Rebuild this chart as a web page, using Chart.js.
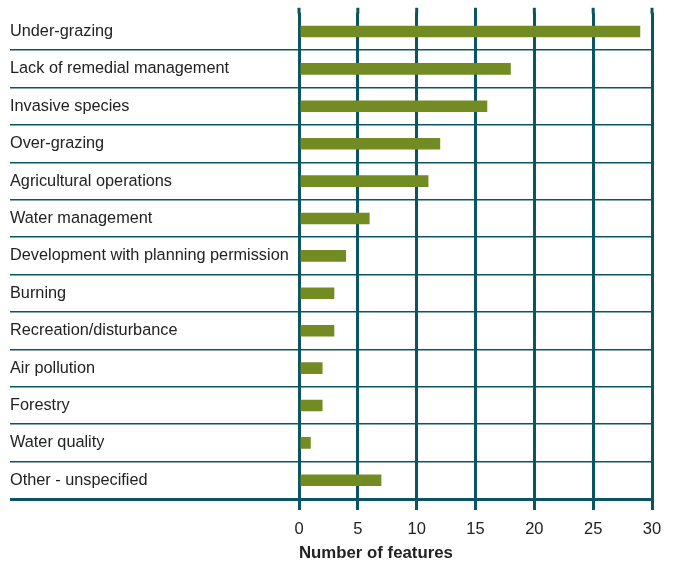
<!DOCTYPE html>
<html>
<head>
<meta charset="utf-8">
<script src="https://cdn.jsdelivr.net/npm/chart.js@4"></script>
<style>
  html, body { margin: 0; padding: 0; background: #fff; }
  #wrap { width: 674px; height: 568px; }
</style>
</head>
<body>
<div id="wrap"><canvas id="pressure_chart"></canvas></div>
<script>
// categories and counts
var categories = [
  "Under-grazing",
  "Lack of remedial management",
  "Invasive species",
  "Over-grazing",
  "Agricultural operations",
  "Water management",
  "Development with planning permission",
  "Burning",
  "Recreation/disturbance",
  "Air pollution",
  "Forestry",
  "Water quality",
  "Other - unspecified"
];
var feature_counts = [29, 18, 16, 12, 11, 6, 4, 3, 3, 2, 2, 1, 7];
var x_ticks = [0, 5, 10, 15, 20, 25, 30];
var x_title = "Number of features";

var line_color = "#0b5563";
var bar_color = "#728b22";
var text_color = "#222222";
var font_family = "'Liberation Sans', Arial, sans-serif";

// the vertical grid lines poke a few px above the top row
var gridTopExtend = {
  id: 'gridTopExtend',
  beforeDatasetsDraw: function(chart) {
    var ctx = chart.ctx;
    var x = chart.scales.x;
    var top = chart.chartArea.top;
    ctx.save();
    ctx.strokeStyle = line_color;
    ctx.lineWidth = 3;
    for (var i = 0; i < x_ticks.length; i++) {
      var px = x.getPixelForValue(x_ticks[i]);
      ctx.beginPath();
      ctx.moveTo(px, top - 5);
      ctx.lineTo(px, top + 1);
      ctx.stroke();
    }
    ctx.restore();
  }
};

function initPage() {
  var ctx = document.getElementById("pressure_chart").getContext("2d");
  new Chart(ctx, {
    type: 'bar',
    data: {
      labels: categories,
      datasets: [{
        data: feature_counts,
        backgroundColor: bar_color,
        borderWidth: 0,
        barPercentage: 0.31,
        categoryPercentage: 1
      }]
    },
    options: {
      indexAxis: 'y',
      responsive: true,
      maintainAspectRatio: false,
      animation: false,
      layout: { padding: { left: 10, right: 22, top: 10.4, bottom: 0 } },
      plugins: { legend: { display: false }, tooltip: { enabled: false } },
      scales: {
        x: {
          min: 0,
          max: 30,
          afterBuildTicks: function(scale) {
            scale.ticks = x_ticks.map(function(v) { return { value: v }; });
          },
          afterFit: function(scale) { scale.height = 69; },
          border: { display: false },
          grid: {
            color: line_color,
            lineWidth: 3,
            tickLength: 11
          },
          ticks: {
            color: text_color,
            padding: 10,
            font: { family: font_family, size: 16.5 }
          },
          title: {
            display: true,
            text: x_title,
            align: 'start',
            color: text_color,
            padding: { top: 0, bottom: 5 },
            font: { family: font_family, size: 16.8, weight: 'bold' }
          }
        },
        y: {
          afterFit: function(scale) { scale.width = 289; },
          border: { display: false },
          grid: {
            offset: true,
            tickLength: 289,
            color: function(c) {
              return c.index === 0 ? 'rgba(0,0,0,0)' : line_color;
            },
            lineWidth: function(c) {
              return c.index === undefined ? 3 : 1.5;
            }
          },
          ticks: {
            crossAlign: 'far',
            color: text_color,
            font: { family: font_family, size: 16.3 }
          }
        }
      }
    },
    plugins: [gridTopExtend]
  });
}

initPage();
</script>
</body>
</html>
